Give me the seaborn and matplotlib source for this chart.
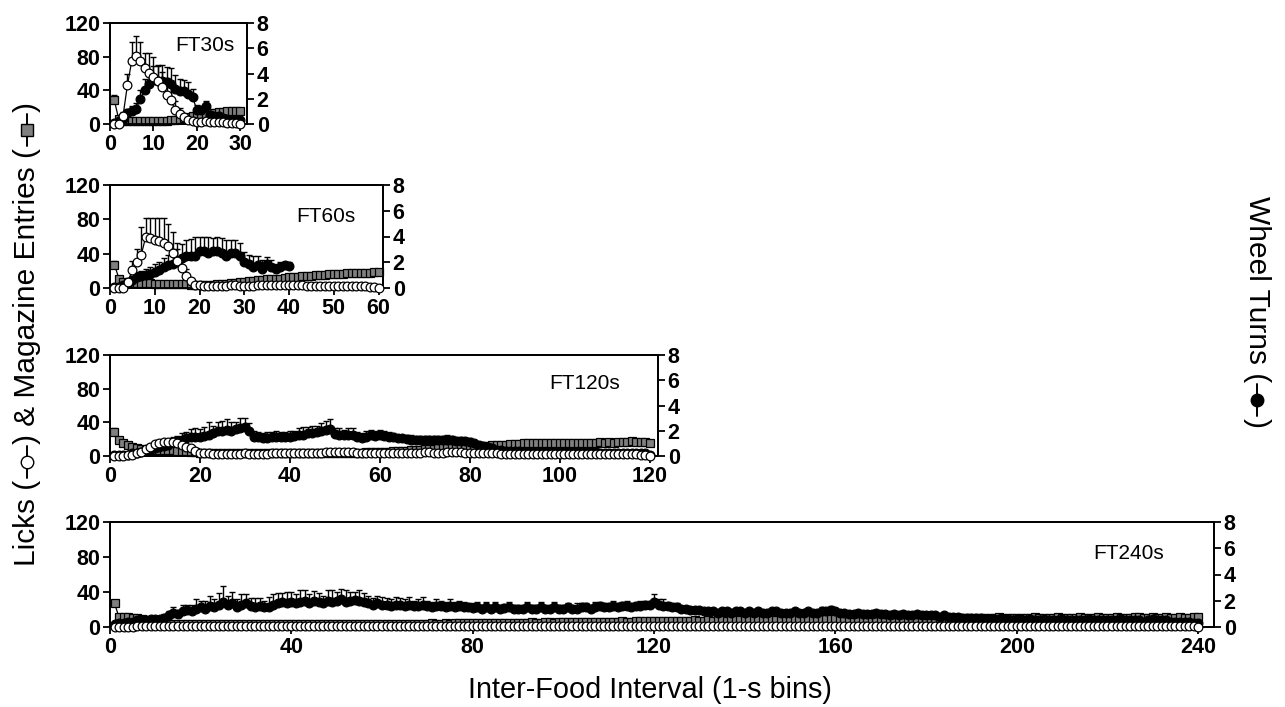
import matplotlib
matplotlib.use("Agg")
import numpy as np
import pandas as pd
import seaborn as sns
import matplotlib.pyplot as plt
from matplotlib.lines import Line2D

# ---------------- data (per 1-s bin, mean and upper SEM) ----------------
# FT30s
lick30 = [0, 0, 10, 46, 75, 81, 75, 67, 61, 56, 51, 44, 35, 28, 17, 12, 8, 5, 3, 2,
          2, 3, 2, 2, 2, 2, 1, 1, 1, 0.5]
lick30_sem = [0, 0, 4, 14, 22, 24, 23, 17, 23, 24, 19, 18, 20, 16, 10, 7, 4, 3, 2, 1,
              1, 1, 1, 1, 1, 1, 0.5, 0.5, 0.5, 0.3]
mag30 = [28, 6, 3, 3, 3, 3, 3, 3, 3, 4, 4, 4, 4, 5, 5, 6, 7, 8, 9, 10,
         12, 12, 13, 13, 14, 14, 15, 15, 15, 16]
mag30_sem = [6, 2, 1, 1, 1, 1, 1, 1, 1, 1, 1, 1, 1, 1, 1, 1, 2, 2, 2, 2,
             2, 2, 3, 3, 3, 3, 3, 3, 3, 3]
wheel30 = [0.05, 0.2, 0.4, 0.9, 1.0, 1.2, 2.0, 2.7, 3.2, 3.5, 3.4, 3.4, 3.3, 3.2, 2.8, 2.6, 2.6, 2.4, 2.1, 1.1,
           1.1, 1.4, 0.7, 0.6, 0.6, 0.5, 0.4, 0.3, 0.3, 0.3]
wheel30_sem = [0.05, 0.1, 0.2, 0.3, 0.4, 0.5, 0.7, 0.9, 1.0, 1.1, 1.2, 1.3, 1.2, 1.2, 1.1, 1.0, 0.9, 0.9, 0.7, 0.4,
               0.3, 0.4, 0.3, 0.2, 0.2, 0.2, 0.1, 0.1, 0.1, 0.1]

# FT60s
lick60 = [0, 0, 0, 7, 21, 30, 39, 60, 58, 56, 55, 52, 49, 41, 32, 23, 14, 8, 4, 3,
          2, 2, 2, 2, 2, 2, 3, 3, 2, 2, 2, 2, 3, 3, 3, 3, 3, 3, 3, 3,
          3, 3, 3, 2, 2, 2, 2, 2, 2, 2, 2, 2, 2, 2, 2, 2, 2, 1, 1, 0]
lick60_sem = [0, 0, 0, 5, 10, 15, 32, 21, 23, 25, 26, 29, 26, 24, 20, 14, 8, 4, 2, 1,
              1, 1, 1, 1, 1, 1, 1, 1, 1, 1, 1, 1, 1, 1, 1, 1, 1, 1, 1, 1,
              1, 1, 1, 1, 1, 1, 1, 1, 1, 1, 1, 1, 1, 1, 1, 1, 1, 0.5, 0.5, 0]
mag60 = [27, 11, 7, 6, 6, 6, 6, 6, 6, 5, 5, 5, 5, 5, 5, 5, 5, 4, 4, 4,
         4, 4, 4, 5, 5, 5, 6, 6, 7, 7, 8, 8, 9, 9, 10, 10, 11, 11, 12, 13,
         13, 13, 14, 14, 14, 15, 15, 15, 16, 16, 16, 16, 17, 17, 17, 18, 18, 18, 19, 19]
mag60_sem = [5, 3, 2, 2, 2, 2, 2, 2, 2, 2, 2, 2, 2, 2, 2, 2, 2, 2, 2, 2,
             2, 2, 2, 2, 2, 2, 2, 2, 2, 2, 2, 2, 2, 3, 3, 3, 3, 3, 3, 3,
             3, 3, 3, 3, 3, 3, 3, 3, 3, 3, 3, 3, 3, 3, 3, 3, 3, 3, 3, 3]
wheel60 = [0.1, 0.1, 0.2, 0.35, 0.6, 0.85, 0.95, 1.0, 1.1, 1.25, 1.4, 1.6, 1.8, 1.9, 2.0, 2.3, 2.5, 2.5, 2.5, 2.9,
           2.9, 2.75, 2.85, 2.9, 2.75, 2.5, 2.75, 2.7, 2.5, 2.0, 1.9, 1.65, 1.75, 1.5, 1.9, 1.65, 1.5, 1.65, 1.75, 1.7]
wheel60_sem = [0.05, 0.05, 0.1, 0.2, 0.3, 0.4, 0.4, 0.5, 0.5, 0.6, 0.6, 0.7, 0.8, 0.9, 1.0, 1.1, 1.2, 1.3, 1.5, 1.1,
               1.1, 1.2, 1.0, 1.1, 1.1, 1.2, 1.0, 1.0, 1.0, 0.8, 0.7, 0.8, 0.7, 0.7, 0.5, 0.5, 0.4, 0.4, 0.3, 0.3]

# FT120s
lick120 = [0, 0, 0, 1, 1, 3, 5, 8, 11, 14, 16, 17, 17, 17, 16, 13, 11, 9, 6, 4,
           3, 3, 2, 2, 2, 2, 2, 2, 2, 3, 2, 2, 2, 2, 2, 3, 3, 3, 3, 3,
           3, 3, 4, 4, 4, 4, 4, 5, 5, 5, 5, 5, 5, 5, 4, 4, 4, 4, 4, 4,
           4, 4, 4, 4, 4, 3, 3, 4, 4, 5, 5, 4, 4, 4, 5, 5, 5, 5, 4, 4,
           4, 4, 3, 3, 3, 3, 2, 2, 2, 2, 2, 2, 2, 2, 2, 2, 2, 2, 2, 2,
           2, 2, 2, 2, 2, 2, 2, 2, 2, 2, 2, 2, 2, 2, 2, 2, 2, 1, 1, 0]
mag120 = [28, 19, 15, 13, 11, 10, 8, 7, 7, 7, 7, 7, 7, 7, 6, 6, 6, 5, 5, 4,
          4, 4, 3, 3, 3, 3, 3, 3, 3, 3, 3, 3, 3, 3, 3, 3, 3, 3, 3, 3,
          3, 3, 3, 3, 3, 3, 4, 4, 4, 4, 4, 4, 4, 4, 4, 4, 5, 5, 5, 5,
          5, 5, 6, 6, 6, 6, 7, 7, 7, 8, 8, 8, 9, 9, 9, 9, 10, 10, 10, 11,
          11, 12, 12, 12, 13, 13, 13, 13, 14, 14, 14, 15, 15, 15, 15, 15, 16, 16, 16, 16,
          16, 16, 16, 16, 15, 16, 16, 16, 17, 16, 17, 16, 17, 17, 17, 18, 17, 17, 17, 16]
mag120_sem = [5, 4, 3, 3, 3, 2, 2, 2, 2, 2, 2, 2, 2, 2, 2, 2, 2, 2, 2, 2,
              1, 1, 1, 1, 1, 1, 1, 1, 1, 1, 1, 1, 1, 1, 1, 1, 1, 1, 1, 1,
              1, 1, 1, 1, 1, 1, 1, 1, 1, 1, 1, 1, 1, 1, 1, 1, 1, 1, 1, 1,
              1, 1, 1, 1, 1, 1, 2, 2, 2, 2, 2, 2, 2, 2, 2, 2, 2, 2, 2, 2,
              2, 2, 2, 2, 2, 2, 2, 2, 2, 2, 2, 2, 3, 2, 2, 2, 3, 2, 2, 2,
              2, 3, 2, 2, 2, 2, 3, 2, 2, 2, 3, 2, 2, 3, 2, 3, 2, 2, 2, 2]
wheel120 = [0.1, 0.1, 0.1, 0.1, 0.2, 0.2, 0.3, 0.4, 0.5, 0.6, 0.7, 0.8, 0.9, 1.1, 1.2, 1.3, 1.4, 1.5, 1.5, 1.5,
            1.6, 1.7, 1.8, 2.0, 2.0, 2.05, 2.0, 2.1, 2.2, 2.3, 2.0, 1.5, 1.5, 1.4, 1.4, 1.5, 1.5, 1.5, 1.5, 1.5,
            1.6, 1.7, 1.7, 1.8, 1.8, 1.9, 2.0, 2.05, 2.1, 1.75, 1.7, 1.65, 1.7, 1.7, 1.5, 1.4, 1.5, 1.65, 1.6, 1.65,
            1.6, 1.5, 1.5, 1.4, 1.4, 1.35, 1.3, 1.25, 1.3, 1.3, 1.3, 1.3, 1.25, 1.3, 1.25, 1.25, 1.2, 1.2, 1.15, 1.1,
            1.0, 0.9, 0.8, 0.7, 0.6, 0.5, 0.5, 0.4, 0.4, 0.4, 0.4, 0.3, 0.3, 0.3, 0.3, 0.3, 0.3, 0.3, 0.3, 0.3,
            0.3, 0.3, 0.3, 0.3, 0.3, 0.3, 0.3, 0.3, 0.2, 0.2, 0.2, 0.2, 0.2, 0.2, 0.2, 0.2, 0.2, 0.2, 0.2, 0.1]
wheel120_sem = [0.05, 0.05, 0.05, 0.05, 0.1, 0.1, 0.1, 0.2, 0.2, 0.2, 0.3, 0.3, 0.3, 0.4, 0.4, 0.5, 0.5, 0.6, 0.7, 0.6,
                0.7, 1.0, 0.6, 0.7, 0.8, 0.9, 0.7, 0.6, 0.8, 0.7, 0.6, 0.5, 0.4, 0.4, 0.5, 0.4, 0.5, 0.4, 0.4, 0.5,
                0.4, 0.5, 0.6, 0.5, 0.6, 0.5, 0.6, 0.7, 0.8, 0.5, 0.5, 0.4, 0.5, 0.5, 0.4, 0.4, 0.5, 0.4, 0.4, 0.4,
                0.4, 0.4, 0.3, 0.3, 0.3, 0.3, 0.4, 0.3, 0.3, 0.3, 0.3, 0.3, 0.3, 0.3, 0.4, 0.3, 0.3, 0.3, 0.3, 0.3,
                0.2, 0.2, 0.2, 0.2, 0.2, 0.2, 0.2, 0.2, 0.2, 0.2, 0.1, 0.1, 0.1, 0.1, 0.1, 0.1, 0.1, 0.1, 0.1, 0.1,
                0.1, 0.1, 0.1, 0.1, 0.1, 0.1, 0.1, 0.1, 0.1, 0.1, 0.1, 0.1, 0.1, 0.1, 0.1, 0.1, 0.1, 0.1, 0.1, 0.1]

# FT240s
lick240 = [0, 0, 0, 0, 0, 1, 1, 1, 1, 1, 1, 1, 1, 1, 1, 1, 1, 1, 1, 1,
           1, 1, 1, 1, 1, 1, 1, 1, 1, 1, 1, 1, 1, 1, 1, 1, 1, 1, 1, 1,
           1, 1, 1, 1, 1, 1, 1, 1, 1, 1, 1, 1, 1, 1, 1, 1, 1, 1, 1, 1,
           1, 1, 1, 1, 1, 1, 1, 1, 1, 1, 1, 1, 1, 1, 1, 1, 1, 1, 1, 1,
           1, 1, 1, 1, 1, 1, 1, 1, 1, 1, 1, 1, 1, 1, 1, 1, 1, 1, 1, 1,
           1, 1, 1, 1, 1, 1, 1, 1, 1, 1, 1, 1, 1, 1, 1, 1, 1, 1, 1, 1,
           1, 1, 1, 1, 1, 1, 1, 1, 1, 1, 1, 1, 1, 1, 1, 1, 1, 1, 1, 1,
           1, 1, 1, 1, 1, 1, 1, 1, 1, 1, 1, 1, 1, 1, 1, 1, 1, 1, 1, 1,
           1, 1, 1, 1, 1, 1, 1, 1, 1, 1, 1, 1, 1, 1, 1, 1, 1, 1, 1, 1,
           1, 1, 1, 1, 1, 1, 1, 1, 1, 1, 1, 1, 1, 1, 1, 1, 1, 1, 1, 1,
           1, 1, 1, 1, 1, 1, 1, 1, 1, 1, 1, 1, 1, 1, 1, 1, 1, 1, 1, 1,
           1, 1, 1, 1, 1, 1, 1, 1, 1, 1, 1, 1, 1, 1, 1, 1, 1, 1, 1, 0]
mag240 = [27, 11, 11, 11, 10, 10, 9, 8, 7, 6, 5, 5, 4, 4, 4, 3, 3, 3, 3, 3,
          3, 3, 3, 3, 3, 3, 3, 3, 3, 3, 3, 4, 3, 3, 3, 3, 3, 3, 4, 3,
          3, 3, 3, 4, 3, 3, 3, 3, 4, 3, 3, 4, 4, 4, 3, 4, 4, 4, 4, 4,
          4, 4, 4, 4, 4, 4, 4, 4, 4, 4, 5, 4, 4, 5, 4, 5, 5, 5, 5, 5,
          5, 5, 5, 5, 5, 5, 5, 5, 5, 5, 5, 5, 6, 5, 5, 6, 6, 5, 6, 6,
          6, 6, 6, 6, 6, 6, 6, 6, 6, 6, 6, 6, 7, 6, 6, 7, 7, 7, 7, 7,
          7, 7, 7, 7, 7, 7, 7, 7, 8, 7, 7, 8, 7, 8, 8, 7, 8, 8, 8, 8,
          8, 8, 8, 8, 9, 8, 8, 8, 9, 8, 9, 9, 8, 9, 9, 8, 9, 9, 9, 9,
          9, 9, 9, 9, 9, 9, 10, 9, 9, 9, 10, 9, 9, 10, 9, 9, 10, 9, 10, 10,
          10, 9, 10, 10, 10, 10, 9, 10, 10, 10, 10, 10, 10, 10, 10, 11, 10, 10, 10, 10,
          10, 10, 10, 11, 10, 10, 10, 10, 11, 10, 10, 10, 10, 11, 10, 10, 10, 11, 10, 10,
          10, 11, 10, 10, 10, 11, 11, 10, 10, 11, 10, 10, 11, 10, 10, 11, 10, 10, 11, 11]
wheel240 = [0.2, 0.3, 0.3, 0.4, 0.4, 0.5, 0.5, 0.5, 0.6, 0.6, 0.6, 0.7, 0.9, 1.1, 1.0, 1.2, 1.3, 1.2, 1.4, 1.5,
            1.4, 1.6, 1.5, 1.7, 1.9, 1.7, 1.8, 1.5, 1.7, 1.8, 1.6, 1.5, 1.6, 1.5, 1.55, 1.7, 1.8, 1.9, 1.8, 1.9,
            1.8, 1.9, 2.0, 1.8, 1.95, 1.9, 1.8, 2.0, 1.9, 2.0, 2.1, 1.9, 2.0, 2.05, 2.0, 1.9, 1.8, 1.7, 1.8, 1.7,
            1.7, 1.6, 1.7, 1.7, 1.6, 1.7, 1.6, 1.6, 1.7, 1.6, 1.5, 1.6, 1.6, 1.5, 1.6, 1.5, 1.6, 1.5, 1.5, 1.45,
            1.5, 1.4, 1.5, 1.4, 1.5, 1.4, 1.45, 1.5, 1.4, 1.4, 1.4, 1.5, 1.4, 1.4, 1.5, 1.4, 1.4, 1.5, 1.4, 1.4,
            1.5, 1.4, 1.4, 1.5, 1.5, 1.4, 1.5, 1.6, 1.5, 1.5, 1.6, 1.5, 1.6, 1.6, 1.5, 1.6, 1.6, 1.7, 1.7, 1.9,
            1.7, 1.6, 1.6, 1.5, 1.5, 1.4, 1.4, 1.3, 1.3, 1.3, 1.2, 1.2, 1.2, 1.1, 1.2, 1.2, 1.1, 1.2, 1.2, 1.1,
            1.2, 1.1, 1.2, 1.1, 1.1, 1.2, 1.2, 1.1, 1.1, 1.1, 1.2, 1.1, 1.1, 1.2, 1.1, 1.1, 1.2, 1.2, 1.3, 1.2,
            1.1, 1.1, 1.0, 1.0, 1.1, 1.0, 1.0, 1.0, 1.1, 1.0, 1.0, 0.9, 1.0, 0.9, 1.0, 0.9, 0.9, 1.0, 0.9, 0.9,
            0.9, 0.9, 0.8, 0.9, 0.8, 0.8, 0.8, 0.7, 0.7, 0.7, 0.7, 0.7, 0.6, 0.6, 0.6, 0.6, 0.6, 0.6, 0.5, 0.6,
            0.6, 0.5, 0.6, 0.5, 0.5, 0.6, 0.5, 0.5, 0.5, 0.6, 0.5, 0.5, 0.5, 0.5, 0.5, 0.6, 0.5, 0.5, 0.5, 0.5,
            0.5, 0.5, 0.6, 0.5, 0.5, 0.5, 0.5, 0.4, 0.5, 0.6, 0.5, 0.5, 0.5, 0.4, 0.4, 0.4, 0.4, 0.4, 0.3, 0.3]
wheel240_sem = [0.1, 0.1, 0.1, 0.1, 0.1, 0.1, 0.1, 0.2, 0.2, 0.2, 0.2, 0.3, 0.3, 0.4, 0.3, 0.5, 0.4, 0.5, 0.7, 0.5,
                0.6, 0.8, 0.6, 0.9, 1.2, 0.7, 0.9, 0.6, 0.8, 0.7, 0.6, 0.7, 0.6, 0.5, 0.7, 0.8, 0.8, 0.7, 0.9, 0.8,
                0.7, 0.9, 0.8, 0.7, 0.8, 0.7, 0.6, 0.8, 0.9, 0.7, 0.8, 0.9, 0.7, 0.6, 0.8, 0.7, 0.6, 0.5, 0.6, 0.6,
                0.5, 0.5, 0.6, 0.5, 0.5, 0.6, 0.4, 0.5, 0.6, 0.4, 0.4, 0.5, 0.4, 0.4, 0.5, 0.4, 0.4, 0.4, 0.3, 0.4,
                0.4, 0.3, 0.4, 0.3, 0.4, 0.3, 0.3, 0.4, 0.3, 0.3, 0.3, 0.4, 0.3, 0.3, 0.4, 0.3, 0.3, 0.4, 0.3, 0.3,
                0.3, 0.3, 0.4, 0.3, 0.3, 0.3, 0.4, 0.3, 0.3, 0.3, 0.4, 0.3, 0.3, 0.4, 0.3, 0.3, 0.4, 0.3, 0.3, 0.6,
                0.4, 0.5, 0.3, 0.3, 0.3, 0.2, 0.2, 0.2, 0.2, 0.2, 0.2, 0.2, 0.2, 0.2, 0.2, 0.2, 0.2, 0.2, 0.2, 0.2,
                0.2, 0.2, 0.2, 0.2, 0.2, 0.2, 0.2, 0.2, 0.2, 0.2, 0.2, 0.2, 0.2, 0.2, 0.2, 0.2, 0.3, 0.2, 0.3, 0.2,
                0.2, 0.2, 0.2, 0.2, 0.2, 0.2, 0.2, 0.2, 0.2, 0.2, 0.2, 0.2, 0.2, 0.2, 0.2, 0.2, 0.2, 0.2, 0.2, 0.2,
                0.2, 0.2, 0.2, 0.2, 0.2, 0.2, 0.2, 0.2, 0.2, 0.2, 0.2, 0.2, 0.2, 0.2, 0.2, 0.2, 0.2, 0.2, 0.2, 0.2,
                0.1, 0.1, 0.1, 0.1, 0.1, 0.1, 0.1, 0.1, 0.1, 0.1, 0.1, 0.1, 0.1, 0.1, 0.1, 0.1, 0.1, 0.1, 0.1, 0.1,
                0.1, 0.1, 0.1, 0.1, 0.1, 0.1, 0.1, 0.1, 0.1, 0.1, 0.1, 0.1, 0.1, 0.1, 0.1, 0.1, 0.1, 0.1, 0.1, 0.1]

schedules = ["FT30s", "FT60s", "FT120s", "FT240s"]
x_ticks = [[0, 10, 20, 30], [0, 10, 20, 30, 40, 50, 60],
           [0, 20, 40, 60, 80, 100, 120], [0, 40, 80, 120, 160, 200, 240]]
left_ticks = [0, 40, 80, 120]
right_ticks = [0, 2, 4, 6, 8]

# ---------------- styling ----------------
sns.set_theme(style="ticks")
plt.rcParams["font.family"] = ["Liberation Sans", "DejaVu Sans"]
plt.rcParams["axes.linewidth"] = 1.3

W, H = 1285, 707
fig = plt.figure(figsize=(W / 100, H / 100), dpi=100)

GREY = "#808080"
TICK_FS = 15.5
LABEL_FS = 21.5


def axes_px(left, top, right, bottom):
    return fig.add_axes([left / W, 1 - bottom / H, (right - left) / W, (bottom - top) / H])


def draw_series(ax, y, sem, marker, face, size, zorder):
    x = np.arange(1, len(y) + 1)
    df = pd.DataFrame({"bin": x, "value": y})
    if sem is not None:
        ax.errorbar(df["bin"], df["value"], yerr=[np.zeros(len(y)), np.asarray(sem)],
                    fmt="none", ecolor="black", elinewidth=1.0, capsize=2.4,
                    capthick=1.0, zorder=zorder - 0.5)
    sns.lineplot(data=df, x="bin", y="value", ax=ax, color="black", linewidth=0.9,
                 marker=marker, markersize=size, markerfacecolor=face,
                 markeredgecolor="black", markeredgewidth=0.9, sort=False,
                 estimator=None, errorbar=None, clip_on=False, zorder=zorder)


def bold_ticks(ax):
    for lab in ax.get_xticklabels() + ax.get_yticklabels():
        lab.set_fontweight("bold")


panels = [
    dict(box=(110, 23, 247, 124), xmax=31.5, lick=lick30, lick_sem=lick30_sem, mag=mag30,
         mag_sem=mag30_sem, wheel=wheel30, wheel_sem=wheel30_sem, tx=0.91, ty=0.78),
    dict(box=(110, 185, 383, 288), xmax=61, lick=lick60, lick_sem=lick60_sem, mag=mag60,
         mag_sem=mag60_sem, wheel=wheel60, wheel_sem=wheel60_sem, tx=0.90, ty=0.69),
    dict(box=(110, 355, 658, 456), xmax=121.8, lick=lick120, lick_sem=None, mag=mag120,
         mag_sem=mag120_sem, wheel=wheel120, wheel_sem=wheel120_sem, tx=0.93, ty=0.72),
    dict(box=(110, 522, 1214, 627), xmax=243.5, lick=lick240, lick_sem=None, mag=mag240,
         mag_sem=None, wheel=wheel240, wheel_sem=wheel240_sem, tx=0.955, ty=0.70),
]

for p, name, xt in zip(panels, schedules, x_ticks):
    ax = axes_px(*p["box"])
    ax_w = ax.twinx()
    ax_l = ax.twinx()

    # magazine entries (grey squares) at the back, wheel turns, licks in front
    draw_series(ax, p["mag"], p["mag_sem"], "s", GREY, 6.0, 3)
    draw_series(ax_w, p["wheel"], p["wheel_sem"], "o", "black", 6.3, 3)
    draw_series(ax_l, p["lick"], p["lick_sem"], "o", "white", 6.3, 3)

    for a in (ax, ax_w, ax_l):
        a.set_xlim(0, p["xmax"])
        a.set_xlabel("")
        a.set_ylabel("")
    ax.set_ylim(0, 120)
    ax_l.set_ylim(0, 120)
    ax_w.set_ylim(0, 8)
    ax_l.axis("off")

    ax.set_xticks(xt)
    ax.set_yticks(left_ticks)
    ax_w.set_yticks(right_ticks)
    for a in (ax, ax_w):
        a.tick_params(axis="both", direction="out", length=5, width=1.3,
                      labelsize=TICK_FS, pad=2, colors="black")
        bold_ticks(a)
        for s in a.spines.values():
            s.set_linewidth(1.3)
            s.set_color("black")

    ax.text(p["tx"], p["ty"], name, transform=ax.transAxes, ha="right", va="center",
            fontsize=15, color="black", zorder=10)

# ---------------- axis titles with series symbols ----------------
renderer = fig.canvas.get_renderer()


def symbol(x_px, y0_px, y1_px, marker, face):
    fig.add_artist(Line2D([x_px / W, x_px / W], [y0_px / H, y1_px / H],
                          transform=fig.transFigure, color="black", linewidth=1.4))
    fig.add_artist(Line2D([x_px / W], [(y0_px + y1_px) / 2 / H], transform=fig.transFigure,
                          marker=marker, markersize=9, markerfacecolor=face,
                          markeredgecolor="black", markeredgewidth=1.0, linestyle="none"))


def stacked_title(x_px, start_px, pieces, upward):
    pos = start_px
    sym_len = 36
    for piece in pieces:
        if isinstance(piece, str):
            if upward:
                t = fig.text(x_px / W, pos / H, piece, rotation=90, ha="center", va="bottom",
                             fontsize=LABEL_FS, color="black")
                pos = t.get_window_extent(renderer).y1
            else:
                t = fig.text(x_px / W, pos / H, piece, rotation=-90, ha="center", va="top",
                             fontsize=LABEL_FS, color="black")
                pos = t.get_window_extent(renderer).y0
        else:
            marker, face = piece
            if upward:
                symbol(x_px, pos + 2, pos + sym_len - 2, marker, face)
                pos += sym_len
            else:
                symbol(x_px, pos - sym_len + 2, pos - 2, marker, face)
                pos -= sym_len


stacked_title(27, H - 566, ["Licks (", ("o", "white"), ") & Magazine Entries (",
                            ("s", GREY), ")"], upward=True)
stacked_title(1257, H - 196, ["Wheel Turns (", ("o", "black"), ")"], upward=False)

fig.text(650 / W, 1 - 690 / H, "Inter-Food Interval (1-s bins)", ha="center", va="center",
         fontsize=20.8, color="black")

fig.savefig("out.png", dpi=100, facecolor="white")
